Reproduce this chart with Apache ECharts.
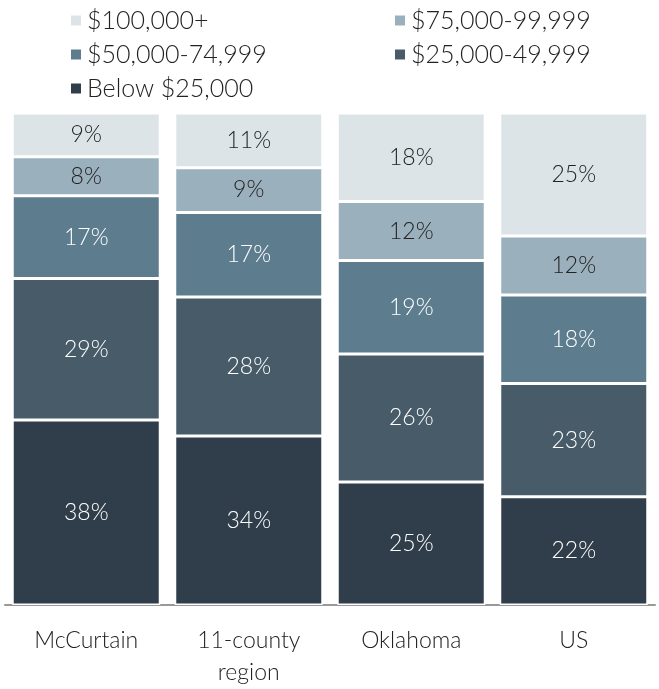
<!DOCTYPE html>
<html>
<head>
<meta charset="utf-8">
<script src="https://cdn.jsdelivr.net/npm/echarts@6/dist/echarts.min.js"></script>
<style>
  html, body { margin: 0; padding: 0; background: #fff; }
  #chart { width: 659px; height: 689px; }
</style>
</head>
<body>
<div id="chart"></div>
<script>
// income brackets by area
var categories = ['McCurtain', '11-county\nregion', 'Oklahoma', 'US'];
var below25 = [38, 34, 25, 22];
var from25 = [29, 28, 26, 23];
var from50 = [17, 17, 19, 18];
var from75 = [8, 9, 12, 12];
var over100 = [9, 11, 18, 25];

var seriesNames = ['Below $25,000', '$25,000-49,999', '$50,000-74,999', '$75,000-99,999', '$100,000+'];
var seriesData = [below25, from25, from50, from75, over100];
var colors = ['#2f3e4a', '#475b68', '#5d7d8f', '#9bb0bd', '#dde4e8'];
var labelColors = ['#fff', '#fff', '#fff', '#222', '#222'];

var font = 'Lato, "Open Sans", sans-serif';

// each bar is filled to 100%, labels keep the rounded values
var totals = categories.map(function (c, i) {
  var s = 0;
  seriesData.forEach(function (arr) { s += arr[i]; });
  return s;
});

var chart = echarts.init(document.getElementById('chart'));

var series = seriesNames.map(function (name, k) {
  return {
    name: name,
    type: 'bar',
    stack: 'total',
    barWidth: 148,
    itemStyle: { color: colors[k], borderColor: '#fff', borderWidth: 1.5 },
    label: {
      show: true,
      position: 'inside',
      color: labelColors[k],
      fontFamily: font,
      fontWeight: 300,
      fontSize: 23,
      formatter: function (p) { return seriesData[k][p.dataIndex] + '%'; }
    },
    data: seriesData[k].map(function (v, i) { return v / totals[i] * 100; })
  };
});

var legendText = { fontFamily: font, fontWeight: 300, fontSize: 25, color: '#222' };

var option = {
  animation: false,
  color: colors,
  legend: [{
    orient: 'vertical',
    left: 64,
    top: 3,
    itemWidth: 12,
    itemHeight: 12,
    itemGap: 9,
    icon: 'rect',
    textStyle: legendText,
    data: ['$100,000+', '$50,000-74,999', 'Below $25,000']
  }, {
    orient: 'vertical',
    left: 388,
    top: 3,
    itemWidth: 12,
    itemHeight: 12,
    itemGap: 9,
    icon: 'rect',
    textStyle: legendText,
    data: ['$75,000-99,999', '$25,000-49,999']
  }],
  grid: { left: 5, right: 4, top: 113, bottom: 82 },
  xAxis: {
    type: 'category',
    data: categories,
    axisLine: { lineStyle: { color: '#999', width: 2 } },
    axisTick: { show: false },
    axisLabel: { fontFamily: font, fontWeight: 300, fontSize: 23, color: '#222', margin: 20, lineHeight: 32 }
  },
  yAxis: {
    type: 'value',
    min: 0,
    max: 100,
    show: false
  },
  series: series
};

chart.setOption(option);
</script>
</body>
</html>
